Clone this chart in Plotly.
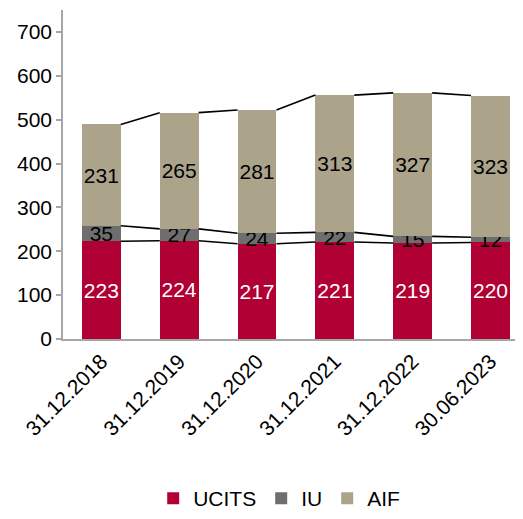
import plotly.graph_objects as go

categories = ["31.12.2018", "31.12.2019", "31.12.2020", "31.12.2021", "31.12.2022", "30.06.2023"]
ucits = [223, 224, 217, 221, 219, 220]
iu = [35, 27, 24, 22, 15, 12]
aif = [231, 265, 281, 313, 327, 323]
y_ticks = [0, 100, 200, 300, 400, 500, 600, 700]

colors = {"UCITS": "#B10034", "IU": "#6E6E6E", "AIF": "#ABA38A"}
FONT = "Liberation Sans, Arial, sans-serif"
FS = 21
bar_w = 0.5
xs = list(range(len(categories)))

fig = go.Figure()
series = [("UCITS", ucits, "white"), ("IU", iu, "black"), ("AIF", aif, "black")]
for name, vals, tcol in series:
    fig.add_trace(go.Bar(
        x=xs, y=vals, name=name, width=bar_w,
        marker=dict(color=colors[name], line=dict(width=0)),
        text=[str(v) for v in vals], textposition="inside",
        insidetextanchor="middle", textangle=0,
        textfont=dict(color=tcol, size=FS, family=FONT),
        constraintext="none", cliponaxis=False,
    ))

# connector lines between stacked segment tops
cum1 = ucits
cum2 = [a + b for a, b in zip(ucits, iu)]
cum3 = [a + b + c for a, b, c in zip(ucits, iu, aif)]
for cum in (cum1, cum2, cum3):
    lx, ly = [], []
    for i in range(len(xs) - 1):
        lx += [xs[i] + bar_w / 2, xs[i + 1] - bar_w / 2, None]
        ly += [cum[i], cum[i + 1], None]
    fig.add_trace(go.Scatter(x=lx, y=ly, mode="lines", line=dict(color="black", width=1.6),
                             showlegend=False, hoverinfo="skip"))

# page body has an 8px margin, so the figure is 8px smaller and shifted
fig.update_layout(
    barmode="stack",
    width=515, height=511,
    margin=dict(l=55, r=0, t=2, b=177),
    paper_bgcolor="white", plot_bgcolor="white",
    font=dict(family=FONT, size=FS, color="black"),
    showlegend=True,
    legend=dict(orientation="h", x=0.47, xanchor="center", y=-0.485, yanchor="middle",
                font=dict(size=FS), traceorder="normal", itemwidth=30,
                tracegroupgap=0),
    uniformtext=dict(mode=False),
)
fig.update_xaxes(
    tickmode="array", tickvals=xs, ticktext=categories, tickangle=-45,
    range=[-0.493, 5.418], showline=True, linecolor="#A6A6A6", linewidth=1.5,
    ticks="", showgrid=False, zeroline=False, tickfont=dict(size=FS),
    automargin=False,
)
fig.update_yaxes(
    tickmode="array", tickvals=y_ticks, range=[0, 750],
    showline=True, linecolor="#A6A6A6", linewidth=1.5,
    ticks="outside", ticklen=5, tickcolor="#A6A6A6", tickwidth=1.5,
    showgrid=False, zeroline=False, tickfont=dict(size=FS),
    automargin=False,
)
fig.write_html("out.html")
